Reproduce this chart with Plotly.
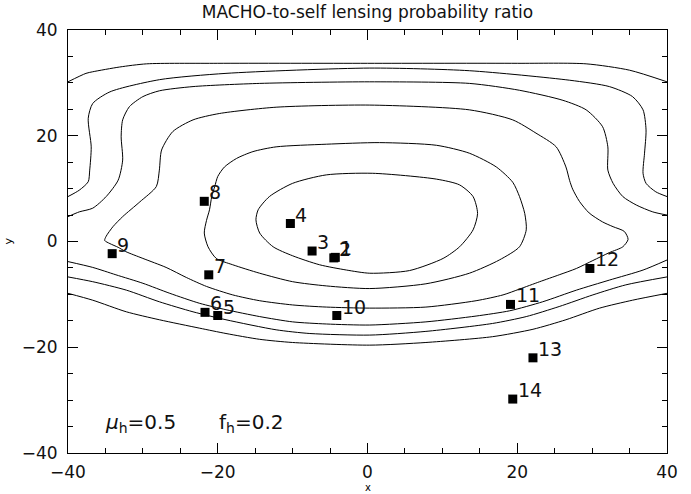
import plotly.graph_objects as go

# ---------------- data ----------------
title_text = "MACHO-to-self lensing probability ratio"
x_label = "x"
y_label = "y"

# source positions (label, x, y)
src_labels = ["1", "2", "3", "4", "5", "6", "7", "8", "9", "10", "11", "12", "13", "14"]
src_x = [-4.3, -4.5, -7.4, -10.3, -20.0, -21.7, -21.2, -21.8, -34.1, -4.1, 19.1, 29.7, 22.1, 19.4]
src_y = [-3.0, -3.1, -1.8, 3.4, -14.0, -13.4, -6.3, 7.6, -2.3, -14.0, -11.9, -5.1, -22.0, -29.8]

# traced contour lines (x, y)
cA_x = [-40, -37.6, -36.7, -33.1, -29.5, -20, 0, 20, 29.2, 35.0, 40]
cA_y = [30.2, 31.8, 32.1, 33.0, 33.6, 33.7, 33.7, 33.7, 33.6, 32.4, 30.2]

cB_x = [-40, -38.5, -37.3, -37.1, -36.9, -37.3, -36.7, -34.4, -27.8, -18.9, 0.3, 13.6, 27.0, 32.3, 35.4, 36.8, 37.2, 37.0, 36.8, 37.2, 38.5, 40]
cB_y = [8.5, 9.7, 11.3, 13.5, 17.9, 23.3, 26.1, 28.3, 30.6, 31.8, 32.8, 32.3, 30.5, 29.3, 27.4, 24.9, 21.1, 16.7, 12.9, 11.0, 9.4, 8.5]

cC_x = [-40, -38.5, -36.7, -34.9, -33.3, -32.7, -32.9, -32.7, -31.8, -30.0, -27.8, -23.3, -14.4, 0.3, 13.6, 20.3, 26.1, 29.2, 31.4, 32.1, 32.1, 32.8, 34.1, 35.9, 38.1, 40]
cC_y = [4.7, 5.6, 6.3, 8.5, 11.6, 15.4, 19.8, 23.0, 25.5, 27.4, 28.5, 29.3, 29.9, 30.2, 29.9, 28.6, 26.7, 24.9, 21.7, 17.9, 13.5, 11.0, 8.5, 6.9, 5.6, 5.0]

cD_x = [0.3, -12.2, -19.8, -23.3, -26.0, -27.5, -27.8, -28.2, -30.4, -32.7, -34.0, -34.9, -35.1, -34.4, -33.3, -32.3, -30.0, -26.9, -24.2, -21.5, -18.0, -14.4, -10.0, -5.5, 0.3, 7.8, 14.5, 18.1, 20.3, 23.0, 25.6, 27.9, 30.1, 32.3, 34.1, 34.8, 34.3, 32.8, 31.4, 29.6, 28.3, 27.4, 27.0, 26.5, 25.2, 22.5, 19.4, 13.6, 0.3]
cD_y = [25.8, 25.4, 24.2, 23.0, 20.8, 17.3, 13.5, 10.4, 7.5, 4.7, 2.8, 1.0, 0.2, -0.4, -1.1, -1.9, -3.2, -4.9, -6.8, -8.5, -10.1, -11.2, -12.0, -12.4, -12.6, -12.4, -11.2, -10.1, -9.0, -7.6, -6.3, -5.1, -3.6, -2.1, -1.0, 0.4, 1.9, 2.8, 3.7, 5.4, 7.6, 9.9, 11.5, 14.1, 17.9, 20.5, 23.0, 24.9, 25.8]

cE_x = [1.6, -5.5, -12.2, -15.3, -17.5, -19.1, -20.0, -20.4, -20.8, -21.1, -21.5, -21.8, -21.3, -20.2, -18.0, -14.4, -10.0, -5.5, 0.3, 7.8, 13.6, 17.6, 20.3, 21.2, 21.0, 20.3, 19.4, 17.2, 13.6, 9.2, 1.6]
cE_y = [18.7, 18.4, 17.9, 17.0, 15.7, 14.1, 12.3, 10.4, 8.5, 6.0, 4.0, 1.6, -1.0, -3.2, -4.4, -6.0, -7.6, -8.4, -8.9, -8.0, -6.0, -3.5, -1.0, 2.2, 5.3, 8.5, 11.2, 14.1, 16.7, 18.2, 18.7]

cF_x = [0.7, -5.5, -10.0, -13.1, -14.6, -14.9, -14.4, -12.6, -10.0, -6.4, -2.8, 0.3, 5.6, 10.1, 12.3, 14.1, 14.7, 14.1, 12.3, 9.2, 0.7]
cF_y = [12.9, 12.6, 11.0, 8.5, 6.0, 4.1, 1.6, -1.0, -2.7, -4.4, -5.4, -6.0, -5.5, -3.2, -1.0, 2.2, 5.3, 8.5, 10.7, 11.8, 12.9]

cG_x = [-40, -36.7, -33.6, -30.0, -26.4, -22.4, -18.9, -14.4, -10.0, -5.5, 0.3, 7.8, 14.5, 19.0, 23.4, 27.9, 32.3, 36.8, 40]
cG_y = [-3.8, -4.9, -6.3, -7.9, -9.8, -11.7, -12.9, -14.2, -15.2, -15.6, -15.8, -15.2, -14.1, -13.1, -11.4, -9.2, -7.3, -5.4, -3.5]

cH_x = [-40, -36.7, -32.2, -27.8, -23.3, -18.9, -12.2, -7.7, 0.3, 7.8, 16.7, 21.2, 25.6, 30.1, 34.5, 40]
cH_y = [-6.7, -7.6, -9.2, -11.4, -13.3, -14.8, -16.7, -17.4, -17.7, -17.0, -15.5, -14.2, -12.3, -10.1, -8.2, -6.7]

cI_x = [-40, -36.7, -32.2, -27.8, -22.4, -18.9, -14.4, -10.0, 0.3, 7.8, 16.7, 22.1, 26.5, 31.0, 35.4, 40]
cI_y = [-9.8, -11.1, -13.3, -14.8, -16.4, -17.4, -18.5, -19.1, -19.6, -19.1, -18.0, -16.6, -14.8, -12.6, -11.1, -9.8]

contours = [(cA_x, cA_y), (cB_x, cB_y), (cC_x, cC_y), (cD_x, cD_y), (cE_x, cE_y),
            (cF_x, cF_y), (cG_x, cG_y), (cH_x, cH_y), (cI_x, cI_y)]

mu_text = "<i>μ</i><sub>h</sub>=0.5"
f_text = "f<sub>h</sub>=0.2"
param_x = [-35.3, -20.1]
param_y = -34.3

# ---------------- figure ----------------
FONT = "DejaVu Sans, sans-serif"
fig = go.Figure()

for cx, cy in contours:
    fig.add_trace(go.Scatter(x=cx, y=cy, mode="lines",
                             line=dict(color="black", width=1, shape="spline", smoothing=0.7),
                             hoverinfo="skip", showlegend=False))

fig.add_trace(go.Scatter(x=src_x, y=src_y, mode="markers",
                         marker=dict(symbol="square", size=9, color="black"),
                         showlegend=False))

for lab, sx, sy in zip(src_labels, src_x, src_y):
    fig.add_annotation(x=sx, y=sy, text=lab, showarrow=False, xanchor="left", yanchor="middle",
                       xshift=3, yshift=9, font=dict(family=FONT, size=19, color="#111"))

fig.add_annotation(x=param_x[0], y=param_y, text=mu_text, showarrow=False, xanchor="left",
                   yanchor="middle", font=dict(family=FONT, size=20, color="#111"))
fig.add_annotation(x=param_x[1], y=param_y, text=f_text, showarrow=False, xanchor="left",
                   yanchor="middle", font=dict(family=FONT, size=20, color="#111"))

fig.add_annotation(x=0.5, y=0, xref="paper", yref="paper", text=x_label, showarrow=False,
                   yanchor="top", yshift=-27, font=dict(family=FONT, size=10, color="black"))
fig.add_annotation(x=0, y=0.5, xref="paper", yref="paper", text=y_label, showarrow=False,
                   xanchor="center", xshift=-60, textangle=-90,
                   font=dict(family=FONT, size=11, color="black"))

axis_common = dict(
    showline=True, linecolor="black", linewidth=1, mirror="allticks",
    ticks="inside", ticklen=10, tickwidth=1, tickcolor="black",
    showgrid=False, zeroline=False,
    tickfont=dict(family=FONT, size=17, color="#111"),
    minor=dict(ticks="inside", ticklen=5, tickwidth=1, tickcolor="black", dtick=5, showgrid=False),
    dtick=20, range=[-40, 40],
)
fig.update_xaxes(**axis_common, tick0=-40, ticklabelstandoff=4)
fig.update_yaxes(**axis_common, tick0=-40, ticklabelstandoff=6)

fig.update_layout(
    width=691, height=494,
    margin=dict(l=68, r=24, t=30, b=41),
    paper_bgcolor="white", plot_bgcolor="white",
    title=dict(text=title_text, x=0.5, xref="paper", xanchor="center",
               y=1 - 12 / 494, yref="container", yanchor="middle",
               font=dict(family=FONT, size=17, color="#111")),
    showlegend=False,
)

fig.write_html("out.html")
